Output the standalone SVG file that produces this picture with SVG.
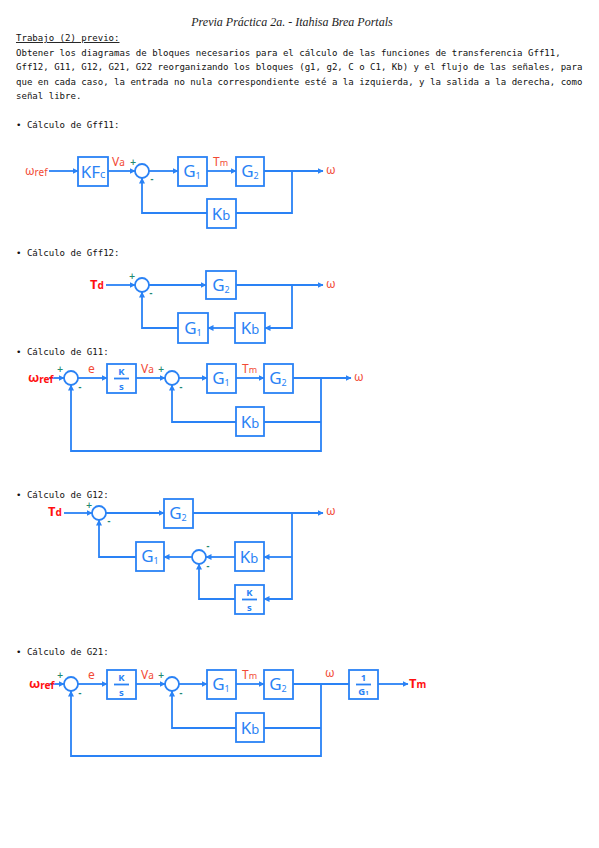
<svg xmlns="http://www.w3.org/2000/svg" width="599" height="848" viewBox="0 0 599 848">
<defs>
<marker id="ar" viewBox="0 0 6 6" refX="5.5" refY="3" markerWidth="6" markerHeight="6" markerUnits="userSpaceOnUse" orient="auto">
<path d="M0,0 L6,3 L0,6 Z" fill="#2a82f5"/>
</marker>
<style>
.bx{fill:#fff;stroke:#2a82f5;stroke-width:1.8}
.w{fill:none;stroke:#2a82f5;stroke-width:1.8}
.wa{fill:none;stroke:#2a82f5;stroke-width:1.8;marker-end:url(#ar)}
.sum{fill:#fff;stroke:#2a82f5;stroke-width:1.8}
.bl{font-family:"Noto Sans",sans-serif;font-size:17px;fill:#2a82f5;text-anchor:middle}
.sb{font-size:9px}
.fr{font-family:"Noto Sans",sans-serif;font-size:9.5px;font-weight:bold;fill:#2a82f5;text-anchor:middle}
.rl{font-family:"Noto Sans",sans-serif;font-size:12px;fill:#f24a35}
.rd{font-family:"Noto Sans",sans-serif;font-size:13px;font-weight:bold;fill:#ff1010}
.sg{font-family:"DejaVu Sans",sans-serif;font-size:8px;font-weight:bold;fill:#1f8a70;text-anchor:middle}
.mono{font-family:"DejaVu Sans Mono","Liberation Mono",monospace;font-size:9.05px;fill:#111}
.tt{font-family:"Liberation Serif",serif;font-style:italic;font-size:12px;fill:#222;text-anchor:middle}
</style>
</defs>

<g id="header">
<text class="tt" x="292" y="26">Previa Práctica 2a. - Itahisa Brea Portals</text>
<text class="mono" x="16" y="41" text-decoration="underline">Trabajo (2) previo:</text>
<text class="mono" x="16" y="56">Obtener los diagramas de bloques necesarios para el cálculo de las funciones de transferencia Gff11,</text>
<text class="mono" x="16" y="70">Gff12, G11, G12, G21, G22 reorganizando los bloques (g1, g2, C o C1, Kb) y el flujo de las señales, para</text>
<text class="mono" x="16" y="85">que en cada caso, la entrada no nula correspondiente esté a la izquierda, y la salida a la derecha, como</text>
<text class="mono" x="16" y="99">señal libre.</text>
<text class="mono" x="16" y="128">• Cálculo de Gff11:</text>
<text class="mono" x="16" y="256">• Cálculo de Gff12:</text>
<text class="mono" x="16" y="355">• Cálculo de G11:</text>
<text class="mono" x="16" y="498">• Cálculo de G12:</text>
<text class="mono" x="16" y="655">• Cálculo de G21:</text>
</g>

<!-- ===== Diagram 1: Gff11 ===== -->
<g id="connectors1">
<path class="wa" d="M49,171 H78"/>
<path class="wa" d="M108,171 H135"/>
<path class="wa" d="M149,171 H178"/>
<path class="wa" d="M207,171 H236"/>
<path class="wa" d="M264,171 H323"/>
<path class="w" d="M292,171 V213 H236"/>
<path class="wa" d="M207,213 H142 V178"/>
</g>
<g id="d1-labels">
<text class="rl" x="25" y="175">ω<tspan font-size="10" dy="1">ref</tspan></text>
<text class="rl" x="112" y="166">V<tspan font-size="10">a</tspan></text>
<text class="rl" x="213" y="166">T<tspan font-size="9">m</tspan></text>
<text class="rl" x="326" y="174">ω</text>
<text class="sg" x="133" y="165">+</text>
<text class="sg" x="152" y="182">-</text>
</g>
<g id="d1-kfc"><rect class="bx" x="78" y="157" width="30" height="29"/><text class="bl" x="93" y="177.5" font-size="15">KF<tspan font-size="11">c</tspan></text></g>
<g id="d1-sum"><circle class="sum" cx="142" cy="171" r="7"/></g>
<g id="d1-g1"><rect class="bx" x="178" y="157" width="29" height="29"/><text class="bl" x="192" y="177">G<tspan class="sb" dy="2">1</tspan></text></g>
<g id="d1-g2"><rect class="bx" x="236" y="157" width="28" height="29"/><text class="bl" x="250" y="177">G<tspan class="sb" dy="2">2</tspan></text></g>
<g id="d1-kb"><rect class="bx" x="207" y="199" width="29" height="29"/><text class="bl" x="221" y="219.5">K<tspan font-size="13">b</tspan></text></g>

<!-- ===== Diagram 2: Gff12 ===== -->
<g id="connectors2">
<path class="wa" d="M106,285 H135"/>
<path class="wa" d="M149,285 H206"/>
<path class="wa" d="M236,285 H323"/>
<path class="wa" d="M292,285 V328 H265"/>
<path class="wa" d="M235,328 H208"/>
<path class="wa" d="M178,328 H142 V292"/>
</g>
<g id="d2-labels">
<text class="rd" x="90" y="289">T<tspan font-size="10">d</tspan></text>
<text class="rl" x="326" y="288">ω</text>
<text class="sg" x="132" y="279">+</text>
<text class="sg" x="151" y="296">-</text>
</g>
<g id="d2-sum"><circle class="sum" cx="142" cy="285" r="7"/></g>
<g id="d2-g2"><rect class="bx" x="206" y="271" width="30" height="28"/><text class="bl" x="221" y="290.5">G<tspan class="sb" dy="2">2</tspan></text></g>
<g id="d2-kb"><rect class="bx" x="235" y="313" width="30" height="30"/><text class="bl" x="250" y="334">K<tspan font-size="13">b</tspan></text></g>
<g id="d2-g1"><rect class="bx" x="178" y="313" width="30" height="30"/><text class="bl" x="193" y="334">G<tspan class="sb" dy="2">1</tspan></text></g>

<!-- ===== Diagram 3: G11 ===== -->
<g id="connectors3">
<path class="wa" d="M49,378 H64"/>
<path class="wa" d="M78,378 H107"/>
<path class="wa" d="M136,378 H165"/>
<path class="wa" d="M179,378 H207"/>
<path class="wa" d="M236,378 H264"/>
<path class="wa" d="M293,378 H351"/>
<path class="w" d="M321,422 H264"/>
<path class="wa" d="M236,422 H172 V385"/>
<path class="wa" d="M321,378 V451 H71 V385"/>
</g>
<g id="d3-labels">
<text class="rd" x="28" y="382" fill="#ff1a1a">ω<tspan font-size="10" dy="1">ref</tspan></text>
<text class="rl" x="88" y="373">e</text>
<text class="rl" x="141" y="373">V<tspan font-size="10">a</tspan></text>
<text class="rl" x="242" y="373">T<tspan font-size="9">m</tspan></text>
<text class="rl" x="354" y="381">ω</text>
<text class="sg" x="60" y="372">+</text>
<text class="sg" x="80" y="390">-</text>
<text class="sg" x="161" y="372">+</text>
<text class="sg" x="181" y="390">-</text>
</g>
<g id="d3-sum1"><circle class="sum" cx="71" cy="378" r="7"/></g>
<g id="d3-ks"><rect class="bx" x="107" y="364" width="29" height="29"/><text class="fr" x="121.5" y="375">K</text><line class="w" x1="114" y1="378.5" x2="129" y2="378.5"/><text class="fr" x="121.5" y="390">s</text></g>
<g id="d3-sum2"><circle class="sum" cx="172" cy="378" r="7"/></g>
<g id="d3-g1"><rect class="bx" x="207" y="364" width="29" height="29"/><text class="bl" x="221" y="384">G<tspan class="sb" dy="2">1</tspan></text></g>
<g id="d3-g2"><rect class="bx" x="264" y="364" width="29" height="29"/><text class="bl" x="278" y="384">G<tspan class="sb" dy="2">2</tspan></text></g>
<g id="d3-kb"><rect class="bx" x="236" y="407" width="28" height="29"/><text class="bl" x="250" y="427.5">K<tspan font-size="13">b</tspan></text></g>

<!-- ===== Diagram 4: G12 ===== -->
<g id="connectors4">
<path class="wa" d="M64,513 H92"/>
<path class="wa" d="M106,513 H164"/>
<path class="wa" d="M193,513 H323"/>
<path class="wa" d="M292,513 V599 H264"/>
<path class="wa" d="M292,557 H264"/>
<path class="wa" d="M235,557 H206"/>
<path class="wa" d="M235,599 H199 V564"/>
<path class="wa" d="M192,557 H164"/>
<path class="wa" d="M136,557 H99 V520"/>
</g>
<g id="d4-labels">
<text class="rd" x="48" y="516">T<tspan font-size="10">d</tspan></text>
<text class="rl" x="326" y="515">ω</text>
<text class="sg" x="89" y="508">+</text>
<text class="sg" x="109" y="524">-</text>
<text class="sg" x="208" y="549">-</text>
<text class="sg" x="208" y="569">-</text>
</g>
<g id="d4-sum1"><circle class="sum" cx="99" cy="513" r="7"/></g>
<g id="d4-g2"><rect class="bx" x="164" y="499" width="29" height="29"/><text class="bl" x="178" y="519">G<tspan class="sb" dy="2">2</tspan></text></g>
<g id="d4-kb"><rect class="bx" x="235" y="542" width="29" height="29"/><text class="bl" x="249" y="562.5">K<tspan font-size="13">b</tspan></text></g>
<g id="d4-ks"><rect class="bx" x="235" y="585" width="29" height="29"/><text class="fr" x="249.5" y="596">K</text><line class="w" x1="242" y1="599.5" x2="257" y2="599.5"/><text class="fr" x="249.5" y="611">s</text></g>
<g id="d4-sum2"><circle class="sum" cx="199" cy="557" r="7"/></g>
<g id="d4-g1"><rect class="bx" x="136" y="542" width="28" height="29"/><text class="bl" x="150" y="562">G<tspan class="sb" dy="2">1</tspan></text></g>

<!-- ===== Diagram 5: G21 ===== -->
<g id="connectors5">
<path class="wa" d="M49,684 H64"/>
<path class="wa" d="M78,684 H107"/>
<path class="wa" d="M136,684 H165"/>
<path class="wa" d="M179,684 H207"/>
<path class="wa" d="M236,684 H264"/>
<path class="w" d="M293,684 H349"/>
<path class="wa" d="M378,684 H408"/>
<path class="w" d="M321,728 H264"/>
<path class="wa" d="M236,728 H172 V691"/>
<path class="wa" d="M321,684 V756 H71 V691"/>
</g>
<g id="d5-labels">
<text class="rd" x="29" y="688" fill="#ff1a1a">ω<tspan font-size="10" dy="1">ref</tspan></text>
<text class="rl" x="88" y="679">e</text>
<text class="rl" x="141" y="679">V<tspan font-size="10">a</tspan></text>
<text class="rl" x="242" y="679">T<tspan font-size="9">m</tspan></text>
<text class="rl" x="325" y="677">ω</text>
<text class="rd" x="409" y="688" fill="#ff2a2a">T<tspan font-size="10">m</tspan></text>
<text class="sg" x="60" y="678">+</text>
<text class="sg" x="80" y="696">-</text>
<text class="sg" x="161" y="678">+</text>
<text class="sg" x="181" y="696">-</text>
</g>
<g id="d5-sum1"><circle class="sum" cx="71" cy="684" r="7"/></g>
<g id="d5-ks"><rect class="bx" x="107" y="670" width="29" height="29"/><text class="fr" x="121.5" y="681">K</text><line class="w" x1="114" y1="684.5" x2="129" y2="684.5"/><text class="fr" x="121.5" y="696">s</text></g>
<g id="d5-sum2"><circle class="sum" cx="172" cy="684" r="7"/></g>
<g id="d5-g1"><rect class="bx" x="207" y="670" width="29" height="29"/><text class="bl" x="221" y="690">G<tspan class="sb" dy="2">1</tspan></text></g>
<g id="d5-g2"><rect class="bx" x="264" y="670" width="29" height="29"/><text class="bl" x="278" y="690">G<tspan class="sb" dy="2">2</tspan></text></g>
<g id="d5-inv"><rect class="bx" x="349" y="670" width="29" height="29"/><text class="fr" x="363.5" y="681" font-size="8">1</text><line class="w" x1="356" y1="684.5" x2="371" y2="684.5"/><text class="fr" x="363.5" y="695" font-size="8">G<tspan font-size="6">1</tspan></text></g>
<g id="d5-kb"><rect class="bx" x="236" y="713" width="28" height="29"/><text class="bl" x="250" y="733.5">K<tspan font-size="13">b</tspan></text></g>
</svg>
